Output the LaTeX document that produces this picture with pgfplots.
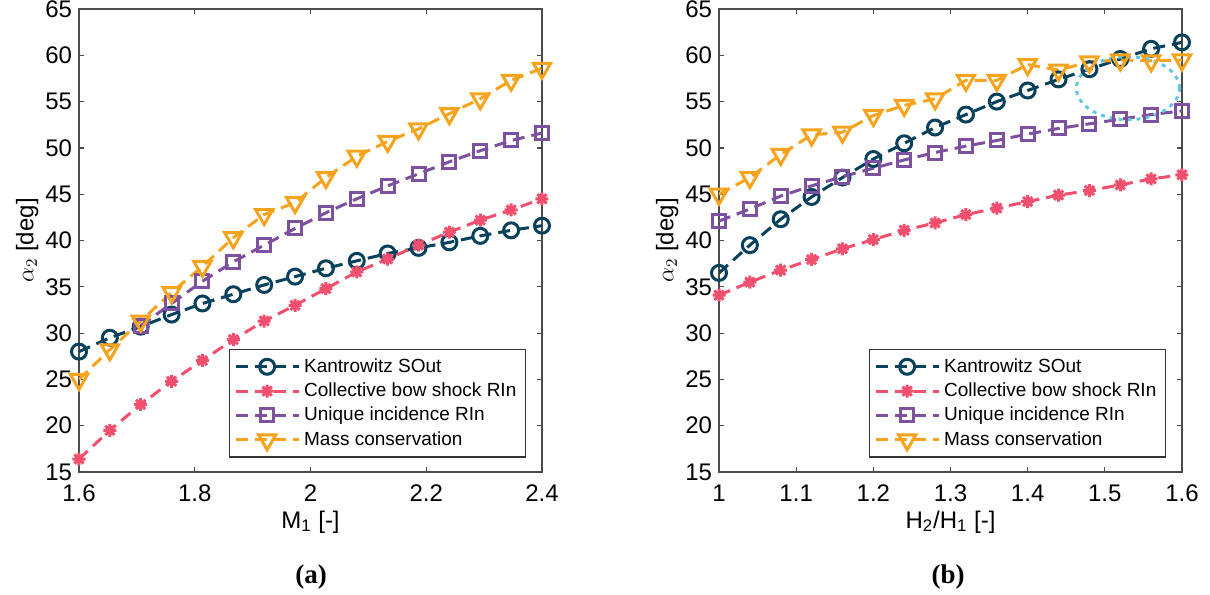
\documentclass[border=0pt]{standalone}
\usepackage{fontspec}
\setmainfont{Liberation Sans}
\newfontfamily\capfont{Liberation Serif}
\usepackage{pgfplots}
\pgfplotsset{compat=1.18}

\definecolor{kblue}{RGB}{8,65,92}
\definecolor{cpink}{RGB}{240,80,110}
\definecolor{upurple}{RGB}{126,80,160}
\definecolor{morange}{RGB}{247,163,30}
\definecolor{ecyan}{RGB}{95,200,225}

\pgfdeclareplotmark{ast8}{%
  \pgfpathmoveto{\pgfqpoint{-\pgfplotmarksize}{0pt}}\pgfpathlineto{\pgfqpoint{\pgfplotmarksize}{0pt}}%
  \pgfpathmoveto{\pgfqpoint{0pt}{-\pgfplotmarksize}}\pgfpathlineto{\pgfqpoint{0pt}{\pgfplotmarksize}}%
  \pgfpathmoveto{\pgfqpoint{-0.707\pgfplotmarksize}{-0.707\pgfplotmarksize}}\pgfpathlineto{\pgfqpoint{0.707\pgfplotmarksize}{0.707\pgfplotmarksize}}%
  \pgfpathmoveto{\pgfqpoint{-0.707\pgfplotmarksize}{0.707\pgfplotmarksize}}\pgfpathlineto{\pgfqpoint{0.707\pgfplotmarksize}{-0.707\pgfplotmarksize}}%
  \pgfusepathqstroke}

\pgfplotstableread{
x        kan   col   mas
1.60000  28.0  16.4  25.0
1.65333  29.5  19.5  28.2
1.70667  30.7  22.3  31.3
1.76000  32.0  24.8  34.4
1.81333  33.2  27.05 37.2
1.86667  34.2  29.3  40.3
1.92000  35.2  31.3  42.8
1.97333  36.1  33.0  44.1
2.02667  37.0  34.8  46.8
2.08000  37.8  36.6  49.1
2.13333  38.6  38.0  50.7
2.18667  39.2  39.5  52.05
2.24000  39.8  40.9  53.7
2.29333  40.5  42.2  55.3
2.34667  41.1  43.3  57.3
2.40000  41.6  44.5  58.6
}\lefttab

\pgfplotstableread{
x        uni
1.70667  30.8
1.76000  33.2
1.81333  35.6
1.86667  37.7
1.92000  39.5
1.97333  41.3
2.02667  43.0
2.08000  44.5
2.13333  45.9
2.18667  47.2
2.24000  48.5
2.29333  49.7
2.34667  50.8
2.40000  51.6
}\leftuni

\pgfplotstableread{
x     kan   col   uni   mas
1.00  36.5  34.1  42.1  45.0
1.04  39.5  35.5  43.4  46.8
1.08  42.3  36.8  44.8  49.3
1.12  44.7  37.95 45.9  51.4
1.16  46.8  39.1  46.9  51.7
1.20  48.8  40.1  47.8  53.5
1.24  50.5  41.1  48.7  54.6
1.28  52.2  41.9  49.5  55.3
1.32  53.6  42.8  50.2  57.3
1.36  55.0  43.5  50.8  57.3
1.40  56.2  44.2  51.5  59.0
1.44  57.4  44.9  52.1  58.4
1.48  58.5  45.4  52.6  59.3
1.52  59.6  46.0  53.1  59.5
1.56  60.7  46.65 53.6  59.4
1.60  61.4  47.1  54.0  59.5
}\righttab

\pgfplotsset{
  mystyle/.style={
    width=231.5bp, height=231.5bp, scale only axis,
    ymin=15, ymax=65, ytick={15,20,...,65},
    tick label style={font=\fontsize{12bp}{14bp}\selectfont},
    xticklabel style={yshift=-3bp},
    /pgf/number format/assume math mode=true,
    label style={font=\fontsize{12bp}{14bp}\selectfont},
    axis line style={black!70, line width=0.6bp},
    tick style={black!70, line width=0.6bp},
    major tick length=2.5bp,
    ylabel={$\alpha_2$ [deg]},
    ylabel style={at={(axis description cs:-0.112,0.5)},anchor=center},
    xlabel style={at={(axis description cs:0.5,-0.108)},anchor=center},
    legend style={at={(0.9654,0.2657)},anchor=north east, draw=black!80,
      line width=0.6bp, font=\fontsize{9.5bp}{11bp}\selectfont,
      row sep=0bp, inner sep=2.5bp, nodes={inner ysep=1.9bp}},
    legend cell align=left,
    legend image code/.code={%
      \draw[mark repeat=2,mark phase=2,#1] plot coordinates {(0bp,0bp) (15.75bp,0bp) (31.5bp,0bp)};},
    every axis plot/.append style={line width=1.5bp, dash pattern=on 6bp off 3.5bp},
  },
  kanst/.style={color=kblue, mark=o, mark size=3.75bp, mark options={solid}},
  colst/.style={color=cpink, mark=ast8, mark size=3.25bp, mark options={solid}},
  unist/.style={color=upurple, mark=square, mark size=3.25bp, mark options={solid}},
  masst/.style={color=morange, mark=triangle, mark size=5bp, mark options={solid, rotate=180}},
}

\begin{document}
\begin{tikzpicture}
\useasboundingbox (0,0) rectangle (605bp,297.5bp);
\begin{axis}[mystyle, at={(39.5bp,61.5bp)}, anchor=south west,
  xmin=1.6, xmax=2.4, xtick={1.6,1.8,2,2.2,2.4},
  xticklabels={1.6,1.8,2,2.2,2.4},
  xlabel={M\textsubscript{1} [-]}]
\addplot[kanst] table[x=x,y=kan] {\lefttab};
\addlegendentry{Kantrowitz SOut}
\addplot[colst] table[x=x,y=col] {\lefttab};
\addlegendentry{Collective bow shock RIn}
\addplot[unist] table[x=x,y=uni] {\leftuni};
\addlegendentry{Unique incidence RIn}
\addplot[masst] table[x=x,y=mas] {\lefttab};
\addlegendentry{Mass conservation}
\end{axis}
\begin{axis}[mystyle, at={(359.5bp,61.5bp)}, anchor=south west,
  xmin=1, xmax=1.6, xtick={1,1.1,1.2,1.3,1.4,1.5,1.6},
  xticklabels={1,1.1,1.2,1.3,1.4,1.5,1.6},
  xlabel={H\textsubscript{2}/H\textsubscript{1} [-]}]
\addplot[kanst] table[x=x,y=kan] {\righttab};
\addlegendentry{Kantrowitz SOut}
\addplot[colst] table[x=x,y=col] {\righttab};
\addlegendentry{Collective bow shock RIn}
\addplot[unist] table[x=x,y=uni] {\righttab};
\addlegendentry{Unique incidence RIn}
\addplot[masst] table[x=x,y=mas] {\righttab};
\addlegendentry{Mass conservation}
\draw[ecyan, line width=1.5bp, dash pattern=on 2bp off 2.5bp] (axis cs:1.53,56.45) ellipse [x radius=0.0668, y radius=3.4];
\end{axis}
\node[font=\fontsize{13.5bp}{16bp}\capfont\bfseries] at (155.5bp,9bp) {(a)};
\node[font=\fontsize{13.5bp}{16bp}\capfont\bfseries] at (474bp,9bp) {(b)};
\end{tikzpicture}
\end{document}
